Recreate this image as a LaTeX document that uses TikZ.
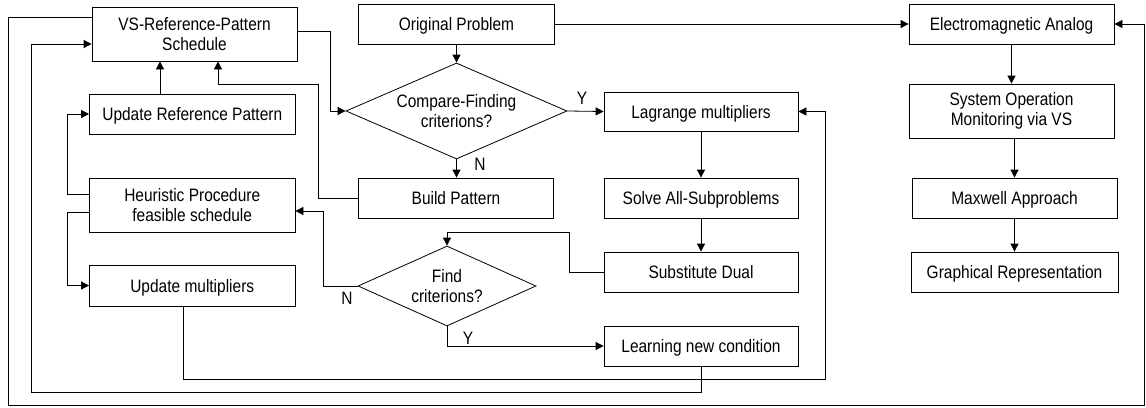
\documentclass[tikz,border=0pt]{standalone}
\usepackage{fontspec}
\setmainfont{Liberation Sans}[FakeStretch=0.86]
\usetikzlibrary{shapes.geometric,arrows.meta}
\begin{document}
\begin{tikzpicture}[x=1pt,y=-1pt,
  every node/.style={font=\fontsize{18}{20.5}\selectfont, text=black},
  box/.style={draw=black, line width=0.8pt, inner sep=0pt, align=center},
  one/.style={box, text height=13pt, text depth=0pt},
  dec/.style={draw=black, line width=0.8pt, shape=diamond, inner sep=0pt, align=center},
  conn/.style={draw=black, line width=0.8pt},
  arr/.style={conn, -{Triangle[length=8pt,width=8pt]}},
  lbl/.style={inner sep=0pt, text height=13pt, text depth=0pt}]
\useasboundingbox (0,0) rectangle (1146,407);
% left column
\node[box, minimum width=205pt, minimum height=54pt] (vsref) at (194.5,34) {VS-Reference-Pattern\\Schedule};
\node[one, minimum width=205.5pt, minimum height=40pt] (upref) at (192.25,114) {Update Reference Pattern};
\node[box, minimum width=205.5pt, minimum height=54pt] (heur) at (192.25,205) {Heuristic Procedure\\feasible schedule};
\node[one, minimum width=205.5pt, minimum height=41pt] (upmul) at (192.25,285.5) {Update multipliers};
% middle column
\node[one, minimum width=196pt, minimum height=40pt] (orig) at (456.5,24) {Original Problem};
\node[dec, aspect=2.3, minimum width=221pt, minimum height=96pt] (cmp) at (456.5,111) {Compare-Finding\\criterions?};
\node[one, minimum width=195pt, minimum height=40pt] (build) at (456,198) {Build Pattern};
\node[dec, aspect=2.2, minimum width=178pt, minimum height=80pt] (find) at (447,286) {Find\\criterions?};
% right-middle column
\node[one, minimum width=194pt, minimum height=39pt] (lag) at (701,111.5) {Lagrange multipliers};
\node[one, minimum width=194pt, minimum height=40pt] (solve) at (701,198) {Solve All-Subproblems};
\node[one, minimum width=194pt, minimum height=40pt] (subst) at (701,272) {Substitute Dual};
\node[one, minimum width=194pt, minimum height=40pt] (learn) at (701,346) {Learning new condition};
% right column
\node[one, minimum width=205pt, minimum height=40pt] (em) at (1011.5,24) {Electromagnetic Analog};
\node[box, minimum width=205pt, minimum height=54pt] (sysop) at (1011.5,111) {System Operation\\Monitoring via VS};
\node[one, minimum width=205pt, minimum height=40pt] (maxw) at (1014.5,198) {Maxwell Approach};
\node[one, minimum width=207pt, minimum height=40pt] (graph) at (1014.5,272) {Graphical Representation};
% corner coordinates
\coordinate (oA) at (8,17);
\coordinate (oB) at (8,405.5);
\coordinate (oC) at (1144.5,405.5);
\coordinate (oD) at (1144.5,24);
\coordinate (iA) at (701,392);
\coordinate (iB) at (31,392);
\coordinate (iC) at (31,44);
\coordinate (mA) at (183,379);
\coordinate (mB) at (825,379);
\coordinate (mC) at (825,111.5);
\coordinate (vA) at (330,31);
\coordinate (vB) at (330,111);
\coordinate (sA) at (569,272);
\coordinate (sB) at (569,232);
\coordinate (sC) at (447,232);
\coordinate (fA) at (323,286);
\coordinate (fB) at (323,211);
\coordinate (fC) at (447,346);
\coordinate (bA) at (318,198);
\coordinate (bB) at (318,84);
\coordinate (bC) at (218,84);
\coordinate (hA) at (67,194);
\coordinate (hB) at (67,114);
\coordinate (hC) at (67,212);
\coordinate (hD) at (67,285.5);
% connectors
\draw[arr] (orig.east) -- (em.west);
\draw[arr] (oA -| vsref.west) -- (oA) -- (oB) -- (oC) -- (oD) -- (em.east);
\draw[arr] (learn.south) -- (iA) -- (iB) -- (iC) -- (iC -| vsref.west);
\draw[arr] (mA |- upmul.south) -- (mA) -- (mB) -- (mC) -- (lag.east);
\draw[arr] (vA -| vsref.east) -- (vA) -- (vB) -- (cmp.west);
\draw[arr] (orig.south) -- (cmp.north);
\draw[arr] (cmp.east) -- (lag.west);
\draw[arr] (cmp.south) -- (cmp.south |- build.north);
\draw[arr] (lag.south) -- (solve.north);
\draw[arr] (solve.south) -- (subst.north);
\draw[arr] (subst.west) -- (sA) -- (sB) -- (sC) -- (find.north);
\draw[arr] (find.west) -- (fA) -- (fB) -- (fB -| heur.east);
\draw[arr] (find.south) -- (fC) -- (learn.west);
\draw[arr] (build.west) -- (bA) -- (bB) -- (bC) -- (bC |- vsref.south);
\draw[arr] (160,0 |- upref.north) -- (160,0 |- vsref.south);
\draw[arr] (hA -| heur.west) -- (hA) -- (hB) -- (upref.west);
\draw[arr] (hC -| heur.west) -- (hC) -- (hD) -- (upmul.west);
\draw[arr] (em.south) -- (sysop.north);
\draw[arr] (maxw.north |- sysop.south) -- (maxw.north);
\draw[arr] (maxw.south) -- (graph.north);
% labels
\node[lbl] (ly1) at (582,98) {Y};
\node[lbl] (ln1) at (480,164) {N};
\node[lbl] (ln2) at (347,298) {N};
\node[lbl] (ly2) at (468,338) {Y};
\end{tikzpicture}
\end{document}
